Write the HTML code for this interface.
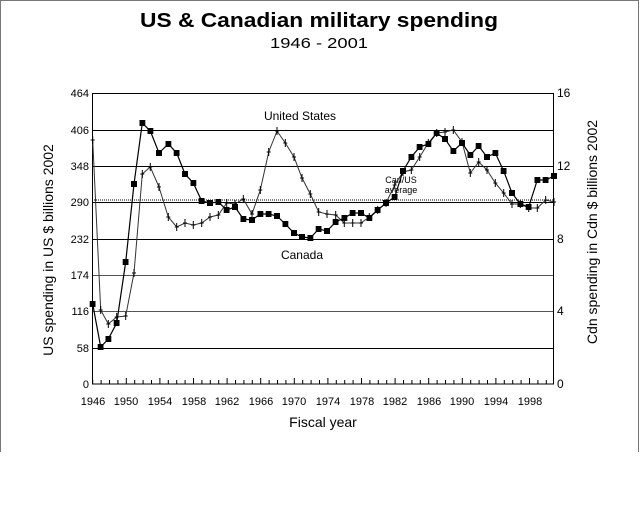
<!DOCTYPE html>
<html><head><meta charset="utf-8"><style>
html,body{margin:0;padding:0;background:#fff}
svg{display:block;font-family:"Liberation Sans",Arial,sans-serif}
</style></head><body>
<svg width="640" height="512" viewBox="0 0 640 512" xmlns="http://www.w3.org/2000/svg">
<defs>
<marker id="sq" markerWidth="6" markerHeight="6" refX="3" refY="3" markerUnits="userSpaceOnUse"><rect x="0" y="0" width="6" height="6" fill="#000"/></marker>
<marker id="cr" markerWidth="8" markerHeight="8" refX="4" refY="4" markerUnits="userSpaceOnUse"><path d="M4 0V8M2 4H6" stroke="#000" stroke-width="1"/></marker>
</defs>
<rect x="0" y="0" width="640" height="512" fill="#fff"/>
<path d="M0.5 452V0.5H638.5V452" fill="none" stroke="#777" stroke-width="1"/>
<text x="140" y="27" font-size="20" font-weight="bold" textLength="358" lengthAdjust="spacingAndGlyphs">US &amp; Canadian military spending</text>
<text x="270" y="48" font-size="15" textLength="98" lengthAdjust="spacingAndGlyphs">1946 - 2001</text>
<g stroke="#000" stroke-width="1">
<line x1="92" y1="130.5" x2="554" y2="130.5"/>
<line x1="92" y1="166.5" x2="554" y2="166.5"/>
<line x1="92" y1="202.5" x2="554" y2="202.5"/>
<line x1="92" y1="239.5" x2="554" y2="239.5"/>
<line x1="92" y1="275.5" x2="554" y2="275.5" stroke="#555"/>
<line x1="92" y1="311.5" x2="554" y2="311.5" stroke="#555"/>
<line x1="92" y1="348.5" x2="554" y2="348.5"/>
<rect x="92.5" y="93.5" width="461" height="290.5" fill="none"/>
</g>
<line x1="92" y1="200" x2="554" y2="200" stroke="#000" stroke-width="1" stroke-dasharray="1,1"/>
<g font-size="11" text-anchor="end" fill="#000">
<text x="89" y="97">464</text><text x="89" y="134">406</text><text x="89" y="170">348</text>
<text x="89" y="206">290</text><text x="89" y="243">232</text><text x="89" y="279">174</text>
<text x="89" y="315">116</text><text x="89" y="352">58</text><text x="89" y="388">0</text>
</g>
<g font-size="12" fill="#000">
<text x="557" y="97">16</text><text x="557" y="170">12</text><text x="557" y="243">8</text>
<text x="557" y="315">4</text><text x="557" y="388">0</text>
</g>
<g stroke="#000" stroke-width="1">
<path d="M92.7 384v-4M101.1 384v-4M109.5 384v-4M117.9 384v-4M126.3 384v-6M134.7 384v-4M143.1 384v-4M151.5 384v-4M159.9 384v-6M168.3 384v-4M176.7 384v-4M185.1 384v-4M193.5 384v-6M201.9 384v-4M210.3 384v-4M218.7 384v-4M227.1 384v-6M235.5 384v-4M243.9 384v-4M252.3 384v-4M260.7 384v-6M269.1 384v-4M277.5 384v-4M285.9 384v-4M294.3 384v-6M302.7 384v-4M311.1 384v-4M319.5 384v-4M327.9 384v-6M336.3 384v-4M344.7 384v-4M353.1 384v-4M361.5 384v-6M369.9 384v-4M378.3 384v-4M386.7 384v-4M395.1 384v-6M403.5 384v-4M411.9 384v-4M420.3 384v-4M428.7 384v-6M437.1 384v-4M445.5 384v-4M453.9 384v-4M462.3 384v-6M470.7 384v-4M479.1 384v-4M487.5 384v-4M495.9 384v-6M504.3 384v-4M512.7 384v-4M521.1 384v-4M529.5 384v-6M537.9 384v-4M546.3 384v-4"/>
</g>
<g font-size="11" text-anchor="middle" fill="#000">
<text x="93" y="405">1946</text><text x="126" y="405">1950</text><text x="160" y="405">1954</text>
<text x="194" y="405">1958</text><text x="227" y="405">1962</text><text x="261" y="405">1966</text>
<text x="294" y="405">1970</text><text x="328" y="405">1974</text><text x="362" y="405">1978</text>
<text x="395" y="405">1982</text><text x="429" y="405">1986</text><text x="462" y="405">1990</text>
<text x="496" y="405">1994</text><text x="530" y="405">1998</text>
</g>
<text x="323" y="427" font-size="14" text-anchor="middle">Fiscal year</text>
<text transform="translate(53,250) rotate(-90)" font-size="14" text-anchor="middle">US spending in US $ billions 2002</text>
<text transform="translate(597,232) rotate(-90)" font-size="14" text-anchor="middle">Cdn spending in Cdn $ billions 2002</text>
<text x="300" y="120" font-size="12" text-anchor="middle">United States</text>
<text x="302" y="259" font-size="12" text-anchor="middle">Canada</text>
<text x="401" y="183" font-size="9" text-anchor="middle">Can/US</text>
<text x="401" y="193" font-size="9" text-anchor="middle">average</text>
<polyline fill="none" stroke="#333" stroke-width="1" marker-mid="url(#cr)" marker-start="url(#cr)" marker-end="url(#cr)"
points="92.7,140 100.7,310 108.3,324 116.7,317 125.7,316 134,273 142.3,174 150.3,167 159,187 168.3,217 176.7,227 185,223 193.3,225 201.7,223 210,217 218.3,215 226.7,203 235,204 243.3,199 252,214 260.3,190 268.7,152 277,131 285.3,143 294,157 302,178 310.3,194 318.7,212 327,214 335.7,215 344.3,223 352.7,223 361,223 369.3,217 377.7,210 386,203 394.7,185 403,172 411.3,170 419.7,157 428.3,143 436.7,133 445,132 453.3,130 462,142 470.3,173 478.7,162 487,170 495.3,183 503.7,193 512,204 520.3,204 528.7,208 537.3,208 545.7,200 554,202"/>
<polyline fill="none" stroke="#000" stroke-width="1.2" marker-mid="url(#sq)" marker-start="url(#sq)" marker-end="url(#sq)"
points="92.7,304 100.7,347 108.3,339 116.7,323 125.7,262 134,184 142.3,123 150.3,131 159,153 168.3,144 176.7,153 185,174 193.3,183 201.7,201 210,203 218.3,202 226.7,210 235,207 243.3,219 252,220 260.3,214 268.7,214 277,216 285.3,224 294,233 302,237 310.3,238 318.7,229 327,231 335.7,222 344.3,218 352.7,213 361,213 369.3,218 377.7,210 386,203 394.7,197 403,171 411.3,157 419.7,147 428.3,144 436.7,133 445,139 453.3,151 462,143 470.3,155 478.7,146 487,157 495.3,153 503.7,171 512,193 520.3,204 528.7,207 537.3,180 545.7,180 554,176"/>
</svg>
</body></html>
